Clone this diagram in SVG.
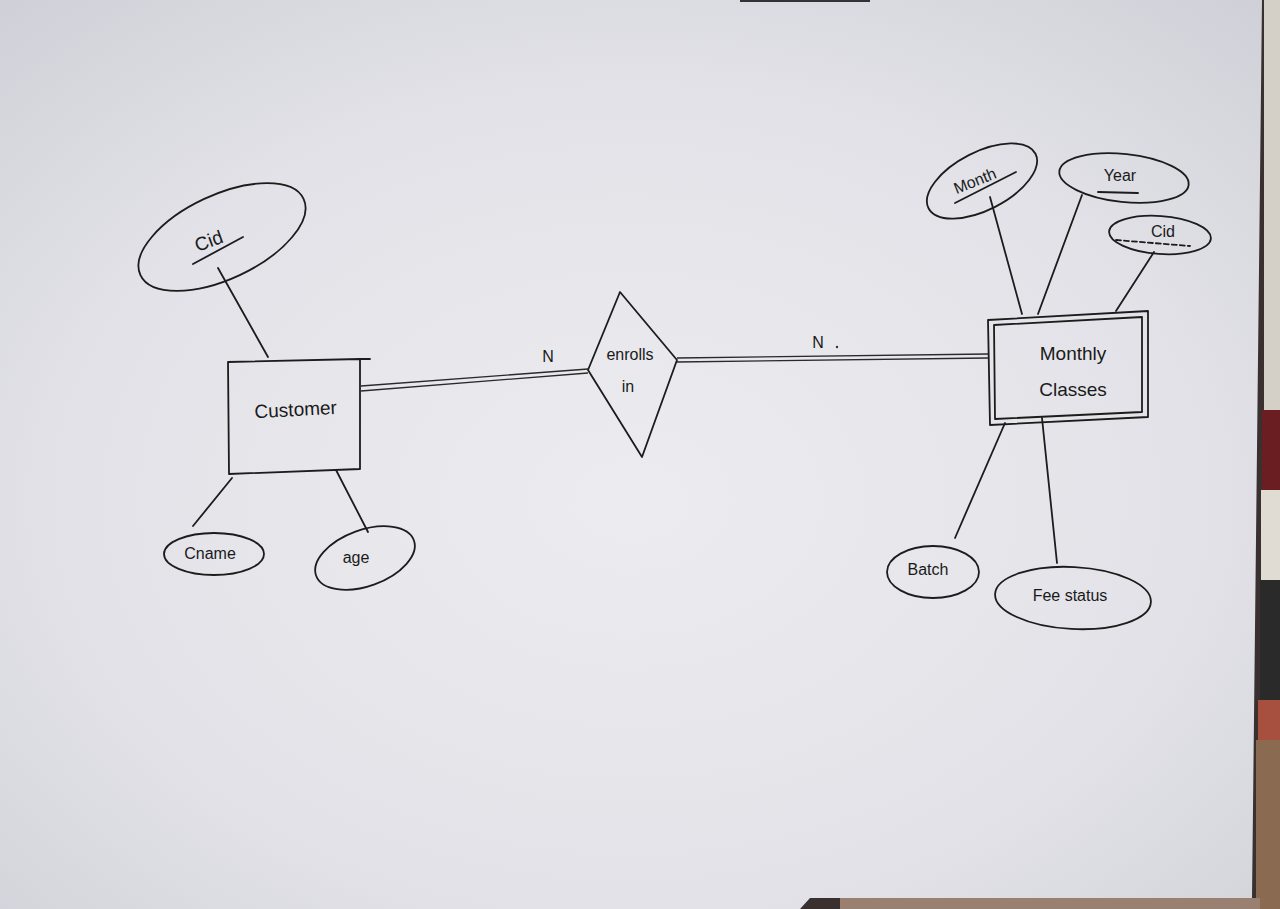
<svg xmlns="http://www.w3.org/2000/svg" width="1280" height="909" viewBox="0 0 1280 909">
<defs>
<radialGradient id="paper" cx="0.5" cy="0.55" r="0.75">
<stop offset="0" stop-color="#ececf0"/>
<stop offset="0.6" stop-color="#e2e2e8"/>
<stop offset="1" stop-color="#cfcfd7"/>
</radialGradient>
<style>
.ink{fill:none;stroke:#1c1c1c;stroke-width:1.8;stroke-linecap:round;stroke-linejoin:round}
.thin{fill:none;stroke:#2a2a2a;stroke-width:1.3}
.t{font-family:"Liberation Sans","DejaVu Sans",sans-serif;fill:#1a1a1a;font-size:19px;text-anchor:middle}
.s{font-size:16px}
</style>
</defs>
<rect x="0" y="0" width="1280" height="909" fill="#3a3030"/>
<polygon points="0,0 1262,0 1252,898 810,898 800,909 0,909" fill="url(#paper)"/>
<rect x="740" y="0" width="130" height="2" fill="#333"/>
<g id="bg-strip">
<rect x="1264" y="0" width="16" height="410" fill="#d4d0c8"/>
<rect x="1262" y="410" width="18" height="80" fill="#6a1e22"/>
<rect x="1261" y="490" width="19" height="90" fill="#e0dcd4"/>
<rect x="1260" y="580" width="20" height="120" fill="#2a2a2a"/>
<rect x="1258" y="700" width="22" height="40" fill="#a85040"/>
<rect x="1256" y="740" width="24" height="169" fill="#8a6a50"/>
<rect x="840" y="898" width="420" height="11" fill="#9a8070"/>
</g>
<g id="connectors">
<line class="ink" x1="218" y1="268" x2="268" y2="357"/>
<line class="ink" x1="232" y1="478" x2="193" y2="526"/>
<line class="ink" x1="336" y1="470" x2="368" y2="532"/>
<line class="thin" x1="361" y1="386" x2="588" y2="369"/>
<line class="thin" x1="361" y1="391" x2="588" y2="373"/>
<line class="thin" x1="677" y1="358" x2="988" y2="354"/>
<line class="thin" x1="677" y1="362" x2="988" y2="358"/>
<line class="ink" x1="990" y1="197" x2="1022" y2="314"/>
<line class="ink" x1="1082" y1="195" x2="1038" y2="314"/>
<line class="ink" x1="1154" y1="252" x2="1116" y2="311"/>
<line class="ink" x1="1005" y1="423" x2="955" y2="538"/>
<line class="ink" x1="1042" y1="418" x2="1057" y2="563"/>
<text class="t s" x="548" y="362">N</text>
<text class="t s" x="818" y="348">N</text>
<circle cx="837" cy="347" r="1.2" fill="#333"/>
</g>
<g id="customer">
<polygon class="ink" points="228,362 360,359 360,469 229,474"/>
<line class="ink" x1="360" y1="359" x2="370" y2="359"/>
<text class="t" x="296" y="416" transform="rotate(-3 296 416)">Customer</text>
</g>
<g id="enrolls-in">
<polygon class="ink" points="620,292 677,360 642,457 588,370"/>
<text class="t s" x="630" y="360">enrolls</text>
<text class="t s" x="628" y="392">in</text>
</g>
<g id="monthly-classes">
<polygon class="ink" points="988,320 1148,311 1148,417 990,425"/>
<polygon class="ink" points="994,325 1142,317 1142,412 995,419"/>
<text class="t" x="1073" y="360">Monthly</text>
<text class="t" x="1073" y="396">Classes</text>
</g>
<g id="attr-cid-customer">
<ellipse class="ink" cx="222" cy="237" rx="90" ry="42" transform="rotate(-25 222 237)"/>
<text class="t" x="211" y="247" transform="rotate(-20 211 247)">Cid</text>
<line class="ink" x1="193" y1="264" x2="243" y2="237" stroke-width="3"/>
</g>
<g id="attr-cname">
<ellipse class="ink" cx="214" cy="554" rx="50" ry="21"/>
<text class="t s" x="210" y="559">Cname</text>
</g>
<g id="attr-age">
<ellipse class="ink" cx="365" cy="558" rx="52" ry="28" transform="rotate(-20 365 558)"/>
<text class="t s" x="356" y="563">age</text>
</g>
<g id="attr-month">
<ellipse class="ink" cx="982" cy="181" rx="60" ry="29" transform="rotate(-27 982 181)"/>
<text class="t s" x="977" y="186" transform="rotate(-22 977 186)">Month</text>
<line class="ink" x1="955" y1="203" x2="1016" y2="172" stroke-width="2.6"/>
</g>
<g id="attr-year">
<ellipse class="ink" cx="1124" cy="178" rx="65" ry="24" transform="rotate(6 1124 178)"/>
<text class="t s" x="1120" y="181">Year</text>
<line class="ink" x1="1098" y1="192" x2="1138" y2="193" stroke-width="2.4"/>
</g>
<g id="attr-cid-classes">
<ellipse class="ink" cx="1160" cy="235" rx="51" ry="19" transform="rotate(4 1160 235)"/>
<text class="t s" x="1163" y="237">Cid</text>
<line class="ink" x1="1116" y1="240" x2="1190" y2="246" stroke-dasharray="5 3" stroke-width="1.6"/>
</g>
<g id="attr-batch">
<ellipse class="ink" cx="933" cy="572" rx="46" ry="26"/>
<text class="t s" x="928" y="575">Batch</text>
</g>
<g id="attr-fee-status">
<ellipse class="ink" cx="1073" cy="598" rx="78" ry="31" transform="rotate(3 1073 598)"/>
<text class="t s" x="1070" y="601">Fee status</text>
</g>
</svg>
